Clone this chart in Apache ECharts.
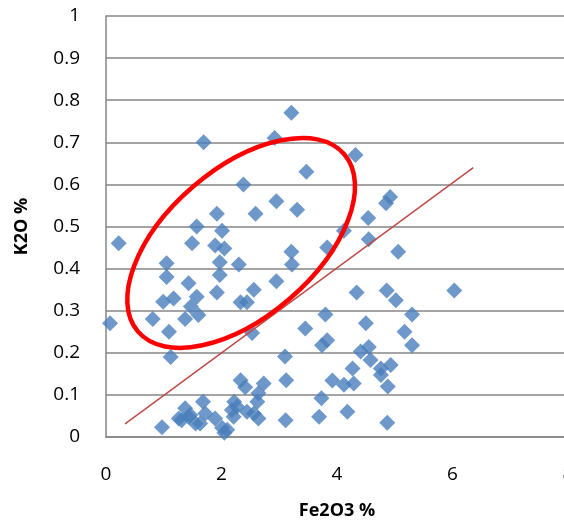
<!DOCTYPE html>
<html>
<head>
<meta charset="utf-8">
<script src="https://cdn.jsdelivr.net/npm/echarts@6/dist/echarts.min.js"></script>
<style>
  html, body { margin: 0; padding: 0; background: #fff; }
  #chart { width: 564px; height: 525px; }
</style>
</head>
<body>
<div id="chart"></div>
<script>
// Fe2O3 % vs K2O %
const fe2o3 = [
  3.21, 2.92, 1.69, 4.32, 3.47, 2.38, 2.95, 3.31, 2.59, 1.92,
  4.92, 4.85, 4.54, 4.12, 4.55, 5.06, 3.83, 3.21, 3.22, 2.30,
  2.95, 2.56, 2.33, 2.44, 0.22, 1.57, 1.49, 2.01, 1.89, 2.05,
  1.97, 1.05, 1.05, 1.43, 1.97, 1.92, 0.99, 1.17, 1.57, 1.47,
  1.60, 1.37, 0.81, 0.07, 1.09, 1.12, 0.97, 4.34, 4.86, 5.02,
  6.03, 5.30, 3.80, 3.45, 2.53, 4.50, 3.83, 3.74, 5.17, 5.30,
  3.10, 4.55, 4.41, 4.58, 4.93, 4.76, 4.27, 4.76, 3.12, 3.92,
  4.12, 4.29, 4.88, 3.73, 4.18, 3.69, 3.11, 4.87, 2.33, 2.41,
  2.73, 2.64, 2.62, 2.22, 2.18, 2.56, 2.64, 2.10, 2.44, 2.27,
  2.21, 1.37, 1.31, 1.46, 1.68, 1.72, 1.63, 1.89, 2.01, 2.05,
  1.55, 1.26, 1.43
];
const k2o = [
  0.77, 0.71, 0.70, 0.67, 0.63, 0.60, 0.56, 0.54, 0.53, 0.53,
  0.57, 0.555, 0.52, 0.49, 0.47, 0.44, 0.45, 0.44, 0.41, 0.41,
  0.37, 0.35, 0.32, 0.32, 0.46, 0.50, 0.46, 0.49, 0.455, 0.448,
  0.415, 0.413, 0.38, 0.365, 0.385, 0.343, 0.321, 0.329, 0.333, 0.31,
  0.29, 0.28, 0.28, 0.27, 0.25, 0.19, 0.023, 0.343, 0.348, 0.325,
  0.348, 0.291, 0.291, 0.258, 0.247, 0.27, 0.23, 0.218, 0.25, 0.218,
  0.191, 0.214, 0.203, 0.183, 0.171, 0.163, 0.163, 0.147, 0.135, 0.134,
  0.124, 0.127, 0.12, 0.092, 0.06, 0.048, 0.04, 0.034, 0.135, 0.118,
  0.127, 0.104, 0.084, 0.084, 0.064, 0.056, 0.044, 0.017, 0.06, 0.072,
  0.048, 0.068, 0.04, 0.052, 0.084, 0.056, 0.032, 0.044, 0.022, 0.01,
  0.032, 0.044, 0.048
];

// trend line ends and ellipse centre, in data units
const trendLine = [[0.33, 0.031], [6.36, 0.64]];
const ellipseCenter = [[2.34, 0.461]];

const xTicks = [0, 2, 4, 6, 8];
const yTicks = [0, 0.1, 0.2, 0.3, 0.4, 0.5, 0.6, 0.7, 0.8, 0.9, 1];

const points = fe2o3.map((x, i) => [x, k2o[i]]);

const font = '"Open Sans", "Liberation Sans", sans-serif';
const chart = echarts.init(document.getElementById('chart'));

chart.setOption({
  animation: false,
  grid: { left: 106, right: -4, top: 16, bottom: 88, outerBoundsMode: 'none' },
  xAxis: {
    type: 'value',
    min: xTicks[0],
    max: xTicks[xTicks.length - 1],
    interval: 2,
    name: 'Fe2O3 %',
    nameLocation: 'middle',
    nameGap: 65,
    nameTextStyle: { fontFamily: font, fontSize: 18, fontWeight: 'bold', color: '#000' },
    axisLine: { lineStyle: { color: '#868686', width: 1.5 } },
    axisTick: { show: false },
    axisLabel: { fontFamily: font, fontSize: 19, color: '#000', margin: 28 },
    splitLine: { show: false }
  },
  yAxis: {
    type: 'value',
    min: yTicks[0],
    max: yTicks[yTicks.length - 1],
    interval: 0.1,
    name: 'K2O %',
    nameLocation: 'middle',
    nameGap: 75,
    nameRotate: 90,
    nameTextStyle: { fontFamily: font, fontSize: 18, fontWeight: 'bold', color: '#000' },
    axisLine: { show: true, lineStyle: { color: '#868686', width: 1.5 } },
    axisTick: { show: false },
    axisLabel: {
      fontFamily: font, fontSize: 19, color: '#000', margin: 26,
      formatter: v => String(Math.round(v * 10) / 10)
    },
    splitLine: { lineStyle: { color: '#868686', width: 1.5 } }
  },
  series: [
    {
      type: 'scatter',
      data: points,
      symbol: 'diamond',
      symbolSize: 16,
      itemStyle: { color: '#4A7EBB' },
      z: 2
    },
    {
      type: 'line',
      data: trendLine,
      showSymbol: false,
      lineStyle: { color: '#BE4B48', width: 1.5 },
      z: 3
    },
    {
      type: 'custom',
      data: ellipseCenter,
      silent: true,
      z: 4,
      renderItem: function (params, api) {
        const c = api.coord([api.value(0), api.value(1)]);
        return {
          type: 'ellipse',
          x: c[0],
          y: c[1],
          rotation: 40.7 * Math.PI / 180,
          shape: { cx: 0, cy: 0, rx: 136, ry: 74 },
          style: { fill: 'none', stroke: '#FF0000', lineWidth: 4.5 }
        };
      }
    }
  ]
});
</script>
</body>
</html>
